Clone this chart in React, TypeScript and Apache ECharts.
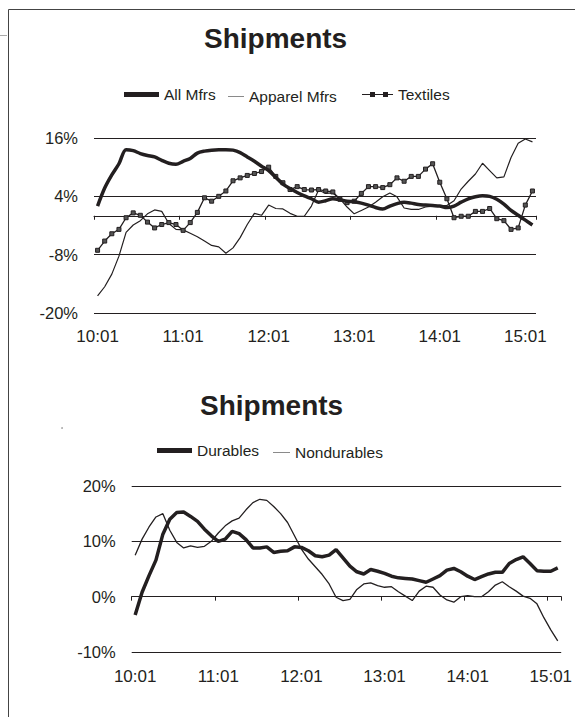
import React, { useEffect, useRef } from 'react';
import * as echarts from 'echarts';

const FONT = '"Liberation Sans", Arial, Helvetica, sans-serif';
const INK = '#231f20';

const months = [
  '10:01', '10:02', '10:03', '10:04', '10:05', '10:06', '10:07', '10:08', '10:09', '10:10', '10:11', '10:12',
  '11:01', '11:02', '11:03', '11:04', '11:05', '11:06', '11:07', '11:08', '11:09', '11:10', '11:11', '11:12',
  '12:01', '12:02', '12:03', '12:04', '12:05', '12:06', '12:07', '12:08', '12:09', '12:10', '12:11', '12:12',
  '13:01', '13:02', '13:03', '13:04', '13:05', '13:06', '13:07', '13:08', '13:09', '13:10', '13:11', '13:12',
  '14:01', '14:02', '14:03', '14:04', '14:05', '14:06', '14:07', '14:08', '14:09', '14:10', '14:11', '14:12',
  '15:01', '15:02',
];

const allMfrs = [
  2.0, 5.7, 8.4, 10.7, 13.6, 13.4, 12.8, 12.4, 12.1, 11.4,
  10.8, 10.6, 11.2, 11.8, 12.9, 13.3, 13.5, 13.6, 13.6, 13.5,
  13.0, 12.1, 11.2, 10.2, 9.3, 7.9, 6.5, 5.6, 4.8, 4.1,
  3.5, 2.8, 3.1, 3.5, 3.3, 3.0, 2.9, 2.6, 2.2, 1.7,
  1.4, 2.0, 2.5, 2.8, 2.6, 2.3, 2.2, 2.1, 2.0, 1.7,
  2.0, 2.8, 3.5, 3.9, 4.1, 4.0, 3.4, 2.4, 1.1, 0.1,
  -0.9, -1.9,
];

const apparelMfrs = [
  -16.5, -14.6, -12.0, -8.3, -3.4, -1.9, -1.0, 0.4, 1.2, 0.9,
  -1.6, -2.8, -2.9, -3.6, -4.3, -5.2, -6.1, -6.4, -7.7, -6.6,
  -4.5, -1.8, 0.5, 0.1, 2.2, 1.5, 1.4, 0.5, -0.1, -0.1,
  2.0, 5.3, 4.6, 4.7, 3.5, 1.8, 0.4, 1.1, 1.8, 2.8,
  3.9, 4.7, 3.9, 1.6, 1.3, 1.3, 1.8, 2.0, 2.1, 2.1,
  3.1, 5.5, 7.1, 8.6, 10.8, 9.3, 7.8, 8.0, 12.0, 14.9,
  15.8, 15.2,
];

const textiles = [
  -7.1, -5.2, -3.7, -2.8, -0.4, 0.6, 0.1, -1.3, -2.5, -1.8,
  -1.4, -1.8, -3.0, -1.4, 0.7, 3.7, 3.0, 4.0, 5.1, 7.2,
  7.8, 8.3, 8.7, 9.1, 10.0, 8.1, 6.8, 5.4, 6.0, 5.4,
  5.3, 5.4, 5.1, 4.9, 3.4, 2.7, 3.0, 4.6, 6.0, 6.0,
  5.8, 6.4, 7.8, 7.1, 8.1, 8.1, 9.6, 10.7, 6.9, 3.5,
  -0.4, -0.1, -0.1, 0.9, 0.9, 1.5, -0.6, -1.0, -2.8, -2.5,
  2.2, 5.1,
];

const durables = [
  -3.3, 0.8, 3.8, 6.6, 11.3, 14.0, 15.2, 15.3, 14.5, 13.6,
  12.2, 11.0, 10.0, 10.4, 11.8, 11.4, 10.3, 8.8, 8.8, 9.0,
  8.0, 8.2, 8.3, 9.0, 8.9, 8.3, 7.4, 7.2, 7.5, 8.5,
  7.0, 5.5, 4.5, 4.1, 4.9, 4.6, 4.2, 3.7, 3.4, 3.3,
  3.2, 2.9, 2.6, 3.2, 3.8, 4.8, 5.1, 4.5, 3.7, 3.1,
  3.6, 4.1, 4.4, 4.4, 6.0, 6.7, 7.2, 6.0, 4.7, 4.6,
  4.6, 5.2,
];

const nondurables = [
  7.5, 10.4, 12.6, 14.4, 15.0, 12.0, 9.8, 8.8, 9.2, 8.9,
  9.1, 10.0, 11.5, 12.8, 13.7, 14.2, 15.7, 17.0, 17.6, 17.4,
  16.3, 15.0, 13.4, 11.0, 8.6, 6.8, 5.4, 4.0, 2.3, -0.1,
  -0.7, -0.5, 1.3, 2.3, 2.5, 2.0, 1.7, 1.8, 0.9, 0.1,
  -0.7, 1.0, 1.9, 1.7, 0.3, -0.6, -1.0, 0.0, 0.2, 0.0,
  0.0, 0.9, 2.1, 2.7, 1.8, 1.0, 0.1, -0.3, -1.3, -3.8,
  -6.0, -8.0,
];

const TEX_ICON = 'path://M0,2 H31 V3 H0 Z M8,0 H13 V5 H8 Z M21,0 H26 V5 H21 Z';

export default function App() {
  const ref = useRef<HTMLDivElement>(null);

  useEffect(() => {
    if (!ref.current) return;
    const chart = echarts.init(ref.current, null, { renderer: 'svg' });

    const legendBase = {
      orient: 'horizontal',
      padding: 0,
      itemGap: 0,
      selectedMode: false,
      textStyle: { fontFamily: FONT, fontSize: 15.5, color: INK },
    };

    const lineAxis = (gridIndex: number) => ({
      type: 'category',
      gridIndex,
      data: months,
      boundaryGap: true,
      position: 'bottom',
      axisLine: { show: true, onZero: true, lineStyle: { color: INK, width: 1 } },
      axisTick: { show: true, interval: 11, length: 4, lineStyle: { color: INK, width: 1 } },
      axisLabel: { show: false },
      splitLine: { show: false },
    });

    const labelAxis = (gridIndex: number, margin: number) => ({
      type: 'category',
      gridIndex,
      data: months,
      boundaryGap: true,
      position: 'bottom',
      axisLine: { show: false, onZero: false },
      axisTick: { show: false },
      axisLabel: { show: true, interval: 11, margin, fontFamily: FONT, fontSize: 17, color: INK },
      splitLine: { show: false },
    });

    const valueAxis = (gridIndex: number, min: number, max: number, interval: number) => ({
      type: 'value',
      gridIndex,
      min,
      max,
      interval,
      axisLine: { show: false },
      axisTick: { show: false },
      splitLine: { show: true, lineStyle: { color: INK, width: 1 } },
      axisLabel: { formatter: '{value}%', margin: 16, fontFamily: FONT, fontSize: 16.5, color: INK },
    });

    chart.setOption({
      animation: false,
      backgroundColor: '#ffffff',
      title: [
        {
          text: 'Shipments', left: 204, top: 24, padding: 0,
          textStyle: { fontFamily: FONT, fontSize: 28, fontWeight: 'bold', color: INK, lineHeight: 28 },
        },
        {
          text: 'Shipments', left: 200, top: 391, padding: 0,
          textStyle: { fontFamily: FONT, fontSize: 28, fontWeight: 'bold', color: INK, lineHeight: 28 },
        },
      ],
      legend: [
        { ...legendBase, left: 124, top: 86.5, itemWidth: 35, itemHeight: 5,
          data: [{ name: 'All Mfrs', icon: 'rect', itemStyle: { color: INK, borderWidth: 0 } }] },
        { ...legendBase, left: 228, top: 88.5, itemWidth: 16, itemHeight: 1,
          data: [{ name: 'Apparel Mfrs', icon: 'rect', itemStyle: { color: '#8a8a8a', borderWidth: 0 } }] },
        { ...legendBase, left: 362, top: 86.5, itemWidth: 31, itemHeight: 5,
          data: [{ name: 'Textiles', icon: TEX_ICON, itemStyle: { color: INK, borderWidth: 0 } }] },
        { ...legendBase, left: 157, top: 442.5, itemWidth: 35, itemHeight: 5,
          data: [{ name: 'Durables', icon: 'rect', itemStyle: { color: INK, borderWidth: 0 } }] },
        { ...legendBase, left: 273, top: 444.5, itemWidth: 17, itemHeight: 1,
          data: [{ name: 'Nondurables', icon: 'rect', itemStyle: { color: '#8a8a8a', borderWidth: 0 } }] },
      ],
      grid: [
        { left: 94, right: 39, top: 138, height: 175, containLabel: false },
        { left: 131.7, right: 4.4, top: 486, height: 166, containLabel: false },
      ],
      xAxis: [lineAxis(0), labelAxis(0, 15), lineAxis(1), labelAxis(1, 16)],
      yAxis: [valueAxis(0, -20, 16, 12), valueAxis(1, -10, 20, 10)],
      series: [
        {
          name: 'Apparel Mfrs', type: 'line', xAxisIndex: 0, yAxisIndex: 0, data: apparelMfrs,
          symbol: 'none', lineStyle: { color: INK, width: 1.2 }, itemStyle: { color: INK }, z: 2,
        },
        {
          name: 'Textiles', type: 'line', xAxisIndex: 0, yAxisIndex: 0, data: textiles,
          symbol: 'rect', symbolSize: 4, showSymbol: true, showAllSymbol: true,
          lineStyle: { color: INK, width: 1.3 },
          itemStyle: { color: '#555555', borderColor: INK, borderWidth: 1 }, z: 3,
        },
        {
          name: 'All Mfrs', type: 'line', xAxisIndex: 0, yAxisIndex: 0, data: allMfrs,
          smooth: 0.3, symbol: 'none', lineStyle: { color: INK, width: 3.5 }, itemStyle: { color: INK }, z: 4,
        },
        {
          name: 'Nondurables', type: 'line', xAxisIndex: 2, yAxisIndex: 1, data: nondurables,
          symbol: 'none', lineStyle: { color: INK, width: 1.3 }, itemStyle: { color: INK }, z: 2,
        },
        {
          name: 'Durables', type: 'line', xAxisIndex: 2, yAxisIndex: 1, data: durables,
          symbol: 'none', lineStyle: { color: INK, width: 3.5 }, itemStyle: { color: INK }, z: 3,
        },
      ],
      graphic: [
        { type: 'line', silent: true, shape: { x1: 8.5, y1: 9.5, x2: 8.5, y2: 717 }, style: { stroke: '#444', lineWidth: 1 } },
        { type: 'line', silent: true, shape: { x1: 8.5, y1: 9.5, x2: 575, y2: 9.5 }, style: { stroke: '#444', lineWidth: 1 } },
        { type: 'line', silent: true, shape: { x1: 0, y1: 35.5, x2: 7, y2: 35.5 }, style: { stroke: '#aaa', lineWidth: 1 } },
        { type: 'circle', silent: true, shape: { cx: 62, cy: 428, r: 0.8 }, style: { fill: '#999' } },
      ],
    });

    return () => chart.dispose();
  }, []);

  return (
    <div
      ref={ref}
      style={{ position: 'fixed', left: 0, top: 0, width: 575, height: 717, background: '#fff' }}
    />
  );
}
